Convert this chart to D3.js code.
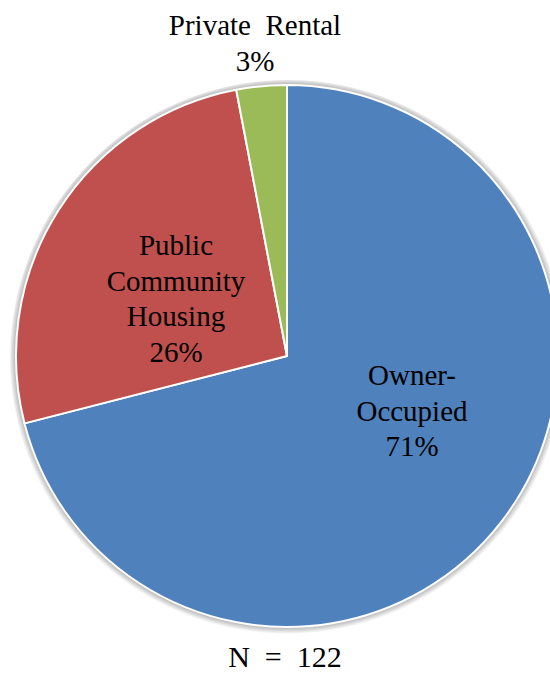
<!DOCTYPE html>
<html>
<head>
<meta charset="utf-8">
<script src="https://cdn.jsdelivr.net/npm/d3@7"></script>
</head>
<body style="margin:0">
<div id="chart"></div>
<script>
const categories = ["Owner-Occupied", "Public Community Housing", "Private Rental"];
const shares = [71, 26, 3];
const labelLines = [["Owner-", "Occupied"], ["Public", "Community", "Housing"], ["Private\u00a0\u00a0Rental"]];
const colors = ["#4F81BD", "#C0504D", "#9BBB59"];
const nTotal = 122;

const width = 550, height = 675;
const cx = 287, cy = 356, radius = 271;
const fontFam = '"Liberation Serif"';

// where Excel put each label, relative to the pie centre (x centre, first baseline)
const labelPos = [[125, 29], [-111, -101], [-32, -321]];
const lineH = 35.5;

const svg = d3.select("#chart").append("svg")
  .attr("width", width)
  .attr("height", height);

// soft shadow ring without a filter
const grad = svg.append("defs").append("radialGradient").attr("id", "shade")
  .attr("gradientUnits", "userSpaceOnUse")
  .attr("cx", 0).attr("cy", 0).attr("r", radius + 7);
grad.append("stop").attr("offset", radius / (radius + 7)).attr("stop-color", "#000").attr("stop-opacity", 0.3);
grad.append("stop").attr("offset", 1).attr("stop-color", "#000").attr("stop-opacity", 0);

const data = categories.map((c, i) => ({ cat: c, value: shares[i], i: i }));

const pie = d3.pie().sort(null).value(d => d.value);
const arc = d3.arc().innerRadius(0).outerRadius(radius);

const g = svg.append("g").attr("transform", `translate(${cx},${cy})`);

g.append("circle")
  .attr("cx", 1).attr("cy", 2)
  .attr("r", radius + 7)
  .attr("fill", "url(#shade)");

g.append("g")
  .selectAll("path")
  .data(pie(data))
  .join("path")
  .attr("d", arc)
  .attr("fill", d => colors[d.data.i])
  .attr("stroke", "#fff")
  .attr("stroke-width", 2)
  .attr("stroke-linejoin", "round");

data.forEach(d => {
  const lines = labelLines[d.i].concat([d.value + "%"]);
  const [lx, ly] = labelPos[d.i];
  lines.forEach((ln, k) => {
    g.append("text")
      .attr("x", lx)
      .attr("y", ly + k * lineH)
      .attr("text-anchor", "middle")
      .attr("font-size", 29)
      .style("font-family", fontFam)
      .text(ln);
  });
});

svg.append("text")
  .attr("x", cx - 2)
  .attr("y", 667)
  .attr("text-anchor", "middle")
  .attr("font-size", 30)
  .style("font-family", fontFam)
  .text("N\u00a0\u00a0=\u00a0\u00a0" + nTotal);
</script>
</body>
</html>
